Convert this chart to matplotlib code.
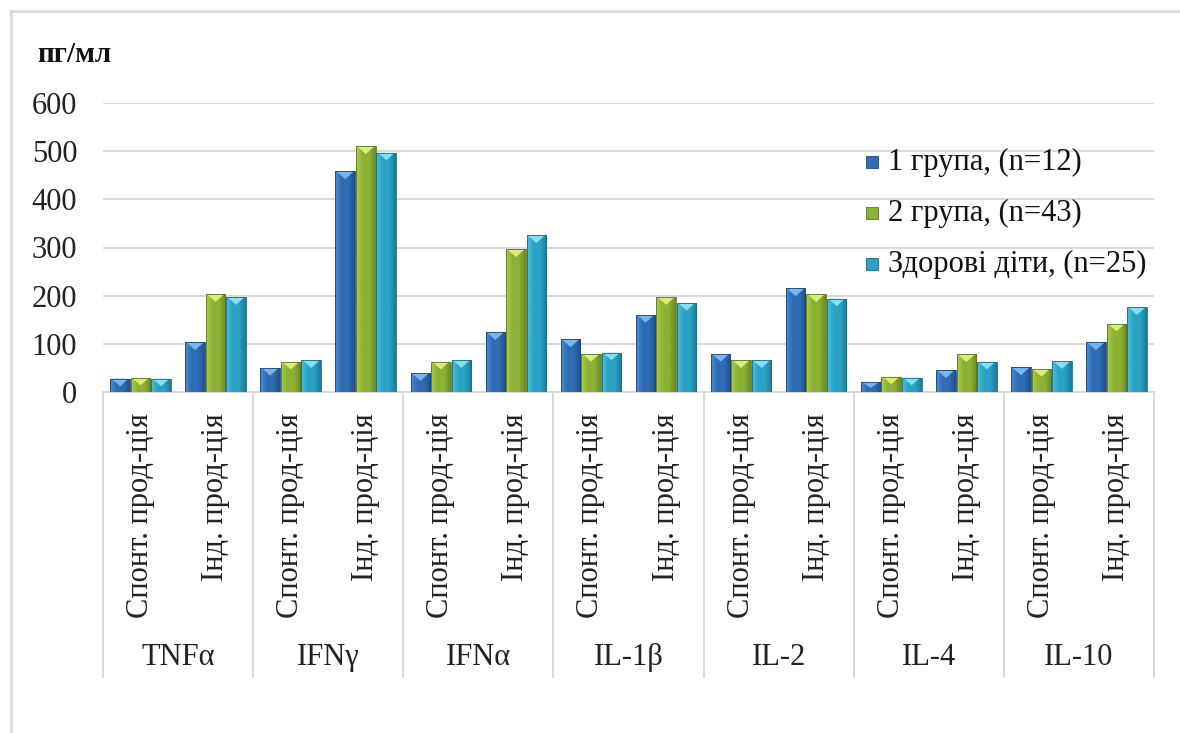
import numpy as np
import matplotlib
matplotlib.use("Agg")
import matplotlib.pyplot as plt
from matplotlib.colors import LinearSegmentedColormap
from matplotlib.patches import Polygon, Rectangle
from matplotlib.lines import Line2D

plt.rcParams['font.family'] = ['Liberation Serif', 'DejaVu Serif']

# cytokine levels, pg/ml
groups = ['TNFα', 'IFNγ', 'IFNα', 'IL-1β', 'IL-2', 'IL-4', 'IL-10']
subcats = ['Спонт. прод-ція', 'Інд. прод-ція']
series_names = ['1 група, (n=12)', '2 група, (n=43)', 'Здорові діти, (n=25)']
group1 = [28, 103, 50, 458, 39, 124, 109, 160, 79, 215, 21, 45, 51, 103]
group2 = [30, 203, 63, 510, 63, 296, 79, 197, 66, 203, 32, 78, 48, 142]
healthy = [28, 197, 66, 497, 66, 325, 82, 185, 66, 194, 30, 63, 64, 176]

# (light edge, base, dark edge, bevel tip, outline)
palettes = [
    ('#4A8DD6', '#2F6CB3', '#20508A', '#7CC0F5', '#1E4677'),
    ('#AACE48', '#8DB135', '#6A8A24', '#E2F57A', '#5B7620'),
    ('#4CC0DE', '#2AA2C4', '#1C7A96', '#8EE6FA', '#186B84'),
]

W, H = 1180, 733
fig = plt.figure(figsize=(W / 100, H / 100), dpi=100)
ax = fig.add_axes([103 / W, 1 - 392 / H, (1154 - 103) / W, (392 - 103) / H])

x = np.arange(len(groups) * len(subcats))
width = 0.26
step = 0.273
grid_c = '#D9D9D9'
fs = 22


def shade(ax, bar, pal):
    cmap = LinearSegmentedColormap.from_list('b', [pal[0], pal[1], pal[1], pal[2]])
    x0, w, h = bar.get_x(), bar.get_width(), bar.get_height()
    grad = np.linspace(0, 1, 64).reshape(1, -1)
    im = ax.imshow(grad, cmap=cmap, aspect='auto', extent=(x0, x0 + w, 0, h),
                   zorder=3, interpolation='bilinear')
    im.set_clip_path(bar)
    d = min(16, h * 0.6)
    tip = Polygon([(x0 + 0.06 * w, h), (x0 + 0.94 * w, h), (x0 + w / 2, h - d)],
                  closed=True, facecolor=pal[3], edgecolor='none', alpha=0.9, zorder=4)
    ax.add_patch(tip)


for i, (vals, pal) in enumerate(zip([group1, group2, healthy], palettes)):
    bars = ax.bar(x + (i - 1) * step, vals, width, color=pal[1], edgecolor=pal[4],
                  linewidth=0.6, zorder=2)
    for b in bars:
        shade(ax, b, pal)
    for b in bars:
        b.set_zorder(5)
        b.set_facecolor('none')

ax.set_xlim(-0.5, len(x) - 0.5)
ax.set_ylim(0, 600)
ax.set_yticks(range(0, 601, 100))
ax.yaxis.grid(True, color=grid_c, linewidth=1.4)
ax.set_axisbelow(True)
for s in ['top', 'right', 'left']:
    ax.spines[s].set_visible(False)
ax.spines['bottom'].set_color(grid_c)
ax.spines['bottom'].set_linewidth(1.4)
ax.tick_params(axis='y', length=0, pad=18.5, labelsize=fs, labelcolor='#222222')

ax.set_xticks(x, subcats * len(groups), rotation=90)
ax.tick_params(axis='x', length=0, pad=15, labelsize=fs, labelcolor='#222222')

# group separators and group names under the bars
trans = ax.get_xaxis_transform()
for k in range(len(groups) + 1):
    ax.plot([2 * k - 0.5] * 2, [0, -0.986], transform=trans, color=grid_c,
            linewidth=1.4, clip_on=False)
for k, g in enumerate(groups):
    ax.text(2 * k + 0.5, -0.918, g, transform=trans, ha='center', va='center',
            fontsize=fs, color='#222222')

fig.text(37 / W, 1 - 55 / H, 'пг/мл', fontsize=21, fontweight='bold', va='center',
         color='#111111')

# legend
for i, (name, pal) in enumerate(zip(series_names, palettes)):
    yc = 162 + i * 51
    fig.add_artist(Rectangle((866 / W, 1 - (yc + 6) / H), 12 / W, 12 / H,
                             transform=fig.transFigure, facecolor=pal[1],
                             edgecolor=pal[4], linewidth=0.6))
    fig.text(888 / W, 1 - yc / H, name, fontsize=fs, va='center', color='#111111')

# outer frame
fig.add_artist(Line2D([11 / W, 1], [1 - 11 / H] * 2, color=grid_c, linewidth=2))
fig.add_artist(Line2D([11 / W] * 2, [0, 1 - 11 / H], color=grid_c, linewidth=2))

fig.savefig('out.png', dpi=100, facecolor='white')
